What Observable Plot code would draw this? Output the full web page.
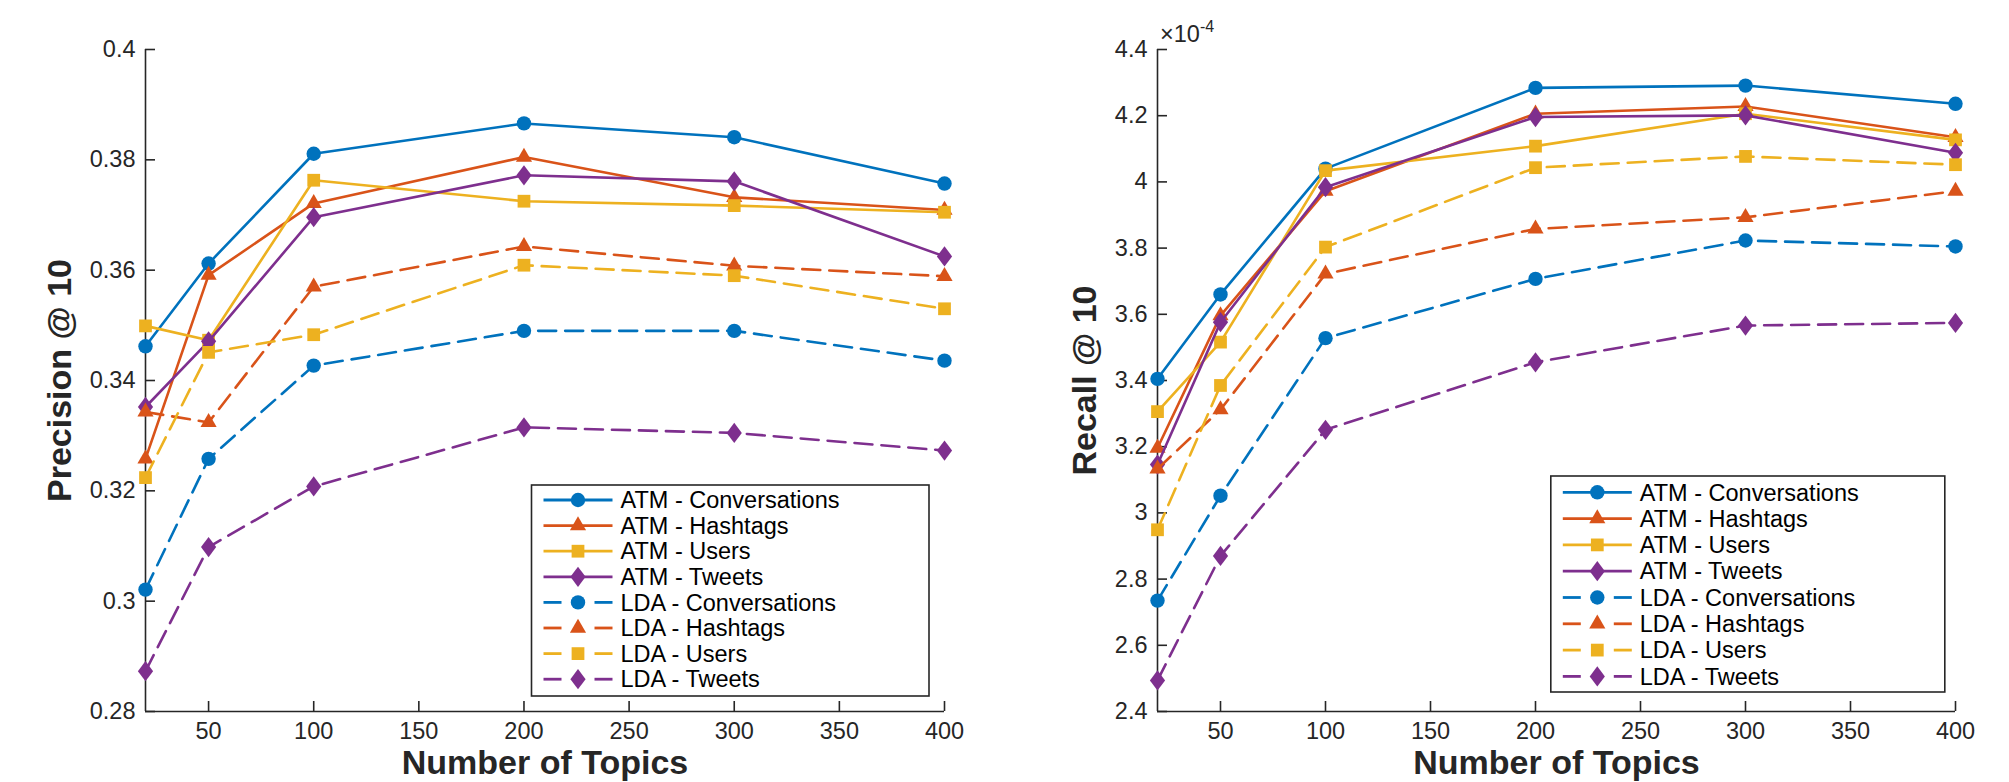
<!DOCTYPE html>
<html>
<head>
<meta charset="utf-8">
<script src="https://cdn.jsdelivr.net/npm/d3@7"></script>
<script src="https://cdn.jsdelivr.net/npm/@observablehq/plot@0.6"></script>
<style>
  html, body { margin: 0; padding: 0; background: #fff; }
  #wrap { position: relative; width: 2009px; height: 782px; overflow: hidden; }
  #left { position: absolute; left: 0; top: 0; }
  #right { position: absolute; left: 1000px; top: 0; }
</style>
</head>
<body>
<div id="wrap"><div id="left"></div><div id="right"></div></div>
<script>
// ---------------- data ----------------
const topics = [20, 50, 100, 200, 300, 400];

const seriesNames = [
  "ATM - Conversations", "ATM - Hashtags", "ATM - Users", "ATM - Tweets",
  "LDA - Conversations", "LDA - Hashtags", "LDA - Users", "LDA - Tweets"
];

// Precision @ 10
const atmConvP   = [0.3462, 0.3612, 0.3811, 0.3866, 0.3841, 0.3757];
const atmHashP   = [0.3258, 0.3591, 0.3721, 0.3805, 0.3732, 0.3709];
const atmUsersP  = [0.3499, 0.3473, 0.3763, 0.3725, 0.3717, 0.3705];
const atmTweetsP = [0.3352, 0.3471, 0.3696, 0.3772, 0.3761, 0.3625];
const ldaConvP   = [0.3021, 0.3258, 0.3427, 0.3490, 0.3490, 0.3436];
const ldaHashP   = [0.3343, 0.3324, 0.3570, 0.3643, 0.3608, 0.3589];
const ldaUsersP  = [0.3224, 0.3451, 0.3483, 0.3609, 0.3590, 0.3530];
const ldaTweetsP = [0.2873, 0.3098, 0.3208, 0.3315, 0.3305, 0.3273];

// Recall @ 10 (in units of 10^-4)
const recallExponent = -4;
const atmConvR   = [3.405, 3.660, 4.040, 4.284, 4.291, 4.236];
const atmHashR   = [3.196, 3.596, 3.972, 4.206, 4.228, 4.135];
const atmUsersR  = [3.306, 3.516, 4.034, 4.108, 4.206, 4.127];
const atmTweetsR = [3.146, 3.576, 3.984, 4.196, 4.201, 4.088];
const ldaConvR   = [2.735, 3.052, 3.528, 3.707, 3.823, 3.805];
const ldaHashR   = [3.133, 3.312, 3.722, 3.858, 3.893, 3.972];
const ldaUsersR  = [2.949, 3.385, 3.803, 4.043, 4.077, 4.052];
const ldaTweetsR = [2.494, 2.870, 3.251, 3.455, 3.566, 3.574];

const precisionSeries = [atmConvP, atmHashP, atmUsersP, atmTweetsP, ldaConvP, ldaHashP, ldaUsersP, ldaTweetsP];
const recallSeries = [atmConvR, atmHashR, atmUsersR, atmTweetsR, ldaConvR, ldaHashR, ldaUsersR, ldaTweetsR];

const xTicks = [50, 100, 150, 200, 250, 300, 350, 400];
const precisionTicks = [0.28, 0.30, 0.32, 0.34, 0.36, 0.38, 0.40];
const recallTicks = [2.4, 2.6, 2.8, 3.0, 3.2, 3.4, 3.6, 3.8, 4.0, 4.2, 4.4];
const xDomain = [20, 400];
const precisionDomain = [0.28, 0.40];
const recallDomain = [2.4, 4.4];

// ---------------- styles ----------------
const seriesColors = ["#0072BD", "#D95319", "#EDB120", "#7E2F8E", "#0072BD", "#D95319", "#EDB120", "#7E2F8E"];
const seriesDashed = [false, false, false, false, true, true, true, true];
const msDiamond = {
  draw(ctx, size) {
    const a = Math.sqrt(size / 1.5), b = 0.75 * a;
    ctx.moveTo(0, -a); ctx.lineTo(b, 0); ctx.lineTo(0, a); ctx.lineTo(-b, 0); ctx.closePath();
  }
};
const shapeDefs = [
  {symbol: d3.symbolCircle, r: 7.2},
  {symbol: d3.symbolTriangle, r: 6.0},
  {symbol: d3.symbolSquare, r: 7.2},
  {symbol: msDiamond, r: 7.0}
];
const seriesShape = [0, 1, 2, 3, 0, 1, 2, 3];
const DASH = "18,9";
const INK = "#262626";
const FONT = "'Liberation Sans', Arial, Helvetica, sans-serif";

function buildRows(values) {
  const rows = [];
  values.forEach((vals, s) => vals.forEach((v, i) => rows.push({series: seriesNames[s], idx: s, topics: topics[i], value: v})));
  return rows;
}

function trimNum(d) { return String(+(+d).toFixed(4)); }

function makeChart(cfg) {
  const rows = buildRows(cfg.values);
  const marks = [
    Plot.ruleX([xDomain[0]], {stroke: INK, strokeWidth: 1.6}),
    Plot.ruleY([cfg.yDomain[0]], {stroke: INK, strokeWidth: 1.6}),
    Plot.axisX({ticks: xTicks, tickSize: -10, tickPadding: 21, tickFormat: d => String(d), label: null, strokeWidth: 1.6, fontSize: 23.5}),
    Plot.axisY({ticks: cfg.yTicks, tickSize: -10, tickPadding: 20, tickFormat: trimNum, label: null, strokeWidth: 1.6, fontSize: 23.5}),
  ];
  seriesNames.forEach((name, s) => {
    const data = rows.filter(d => d.idx === s);
    const shp = shapeDefs[seriesShape[s]];
    marks.push(Plot.line(data, {x: "topics", y: "value", stroke: seriesColors[s], strokeWidth: 2.6,
      strokeDasharray: seriesDashed[s] ? DASH : null}));
    marks.push(Plot.dot(data, {x: "topics", y: "value", symbol: shp.symbol, r: shp.r, fill: seriesColors[s], stroke: "none"}));
  });
  marks.push(Plot.text([cfg.xLabel], {text: d => d, frameAnchor: "bottom", dy: 52, fontSize: 34, fontWeight: "bold", fill: INK, lineAnchor: "middle"}));
  marks.push(Plot.text([cfg.yLabel], {text: d => d, frameAnchor: "left", dx: cfg.yLabelDx, rotate: -90, fontSize: 34, fontWeight: "bold", fill: INK, textAnchor: "middle", lineAnchor: "middle"}));

  const svg = Plot.plot({
    width: cfg.width, height: 782,
    marginLeft: cfg.marginLeft, marginRight: cfg.marginRight, marginTop: 49, marginBottom: 71,
    x: {domain: xDomain, type: "linear"},
    y: {domain: cfg.yDomain, type: "linear"},
    style: {fontFamily: FONT, fontSize: "23.5px", color: INK, background: "transparent", overflow: "visible"},
    marks
  });

  // legend
  const L = cfg.legend;
  const g = d3.select(svg).append("g").attr("font-family", FONT).attr("font-size", 23.5).attr("text-anchor", "start");
  g.append("rect").attr("x", L.x).attr("y", L.y).attr("width", L.w).attr("height", L.h)
    .attr("fill", "white").attr("stroke", INK).attr("stroke-width", 1.6);
  seriesNames.forEach((name, s) => {
    const cy = L.firstRow + s * L.rowGap;
    const x0 = L.x + 12, x1 = L.x + 81, xm = L.x + 46.5;
    if (seriesDashed[s]) {
      g.append("line").attr("x1", x0).attr("x2", x0 + 18).attr("y1", cy).attr("y2", cy).attr("stroke", seriesColors[s]).attr("stroke-width", 2.8);
      g.append("line").attr("x1", x1 - 18).attr("x2", x1).attr("y1", cy).attr("y2", cy).attr("stroke", seriesColors[s]).attr("stroke-width", 2.8);
    } else {
      g.append("line").attr("x1", x0).attr("x2", x1).attr("y1", cy).attr("y2", cy).attr("stroke", seriesColors[s]).attr("stroke-width", 2.8);
    }
    const shp = shapeDefs[seriesShape[s]];
    g.append("path").attr("transform", `translate(${xm},${cy})`)
      .attr("d", d3.symbol(shp.symbol, Math.PI * shp.r * shp.r)()).attr("fill", seriesColors[s]);
    g.append("text").attr("x", L.x + 89).attr("y", cy).attr("dy", "0.35em").attr("fill", "#000").text(name);
  });

  if (cfg.exponent != null) {
    const t = d3.select(svg).append("text").attr("x", cfg.marginLeft + 3).attr("y", 42)
      .attr("text-anchor", "start")
      .attr("font-family", FONT).attr("font-size", 23.5).attr("fill", INK);
    t.append("tspan").text("\u00D710");
    t.append("tspan").attr("font-size", 16).attr("dy", -10).text(String(cfg.exponent));
  }
  return svg;
}

document.getElementById("left").appendChild(makeChart({
  values: precisionSeries, yDomain: precisionDomain, yTicks: precisionTicks,
  width: 1000, marginLeft: 145, marginRight: 56,
  xLabel: "Number of Topics", yLabel: "Precision @ 10", yLabelDx: -85,
  legend: {x: 531.5, y: 485, w: 397.5, h: 211, firstRow: 500, rowGap: 25.6},
  exponent: null
}));

document.getElementById("right").appendChild(makeChart({
  values: recallSeries, yDomain: recallDomain, yTicks: recallTicks,
  width: 1009, marginLeft: 157, marginRight: 54,
  xLabel: "Number of Topics", yLabel: "Recall @ 10", yLabelDx: -72,
  legend: {x: 550.8, y: 476, w: 394, h: 216, firstRow: 492.3, rowGap: 26.3},
  exponent: recallExponent
}));
</script>
</body>
</html>
